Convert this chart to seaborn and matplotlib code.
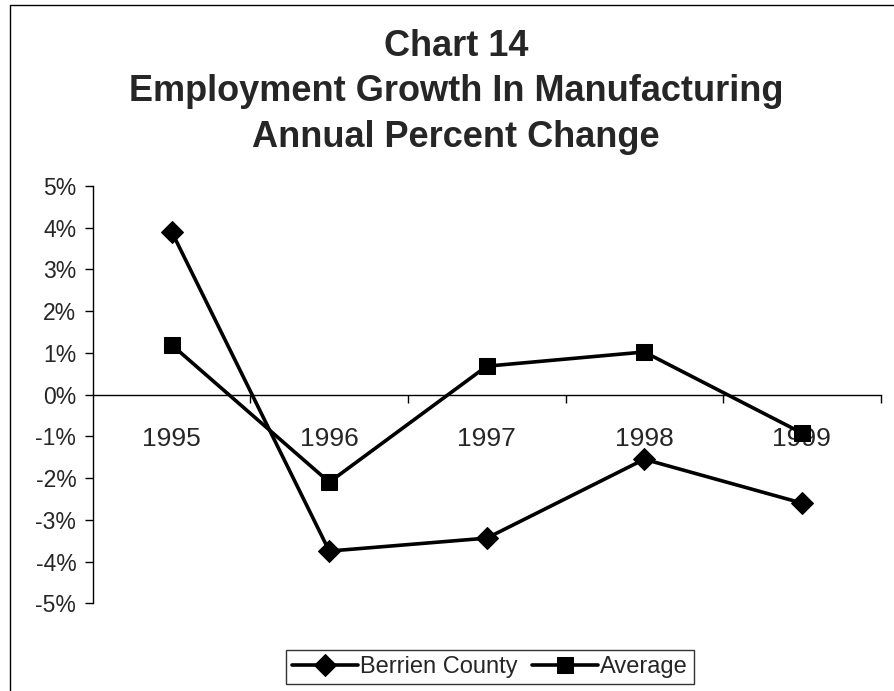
import seaborn as sns
import matplotlib.pyplot as plt
import pandas as pd
from matplotlib.patches import Rectangle

# values (percent)
years = ["1995", "1996", "1997", "1998", "1999"]
berrien = [3.9, -3.75, -3.44, -1.55, -2.6]
average = [1.19, -2.1, 0.68, 1.02, -0.92]

df = pd.DataFrame({
    "Year": years * 2,
    "Change": berrien + average,
    "Series": ["Berrien County"] * len(years) + ["Average"] * len(years),
})

sns.set_theme(style="white")
plt.rcParams["font.family"] = ["Liberation Sans", "DejaVu Sans"]

fig = plt.figure(figsize=(8.94, 6.91), dpi=100)
ax = fig.add_axes([0.104, 0.127, 0.881, 0.604])

sns.lineplot(
    data=df, x="Year", y="Change", hue="Series", style="Series",
    palette={"Berrien County": "black", "Average": "black"},
    markers={"Berrien County": "D", "Average": "s"},
    dashes=False, linewidth=2.6, markersize=11, markeredgecolor="black",
    sort=False, ax=ax,
)

ax.set_xlim(-0.5, len(years) - 0.5)
ax.set_ylim(-5, 5)
ax.set_yticks(range(-5, 6))
ax.set_yticklabels([f"{v}%" for v in range(-5, 6)], fontsize=16.5)
ax.set_xlabel("")
ax.set_ylabel("")

# x axis sits on the zero line, ticks between categories
ax.spines["bottom"].set_position(("data", 0))
ax.spines["top"].set_visible(False)
ax.spines["right"].set_visible(False)
for s in ["left", "bottom"]:
    ax.spines[s].set_color("black")
    ax.spines[s].set_linewidth(1.0)
ax.set_xticks(range(len(years)))
ax.set_xticklabels(years, fontsize=19)
ax.set_xticks([i + 0.5 for i in range(len(years))], minor=True)
ax.tick_params(axis="x", which="major", length=0, pad=23)
ax.tick_params(axis="x", which="minor", length=6, width=1, color="black", direction="out", bottom=True)
ax.tick_params(axis="y", length=6, width=1, color="black", direction="out", left=True, pad=6)

leg = ax.legend(
    loc="lower center", bbox_to_anchor=(0.548, 0.0), bbox_transform=fig.transFigure,
    ncol=2, frameon=True, fancybox=False, edgecolor="black", fontsize=17,
    handlelength=2.8, columnspacing=0.6, handletextpad=0.1, borderpad=0.25,
    borderaxespad=0.3,
)
leg.get_frame().set_linewidth(1.0)

fig.text(0.51, 0.958, "Chart 14\nEmployment Growth In Manufacturing\nAnnual Percent Change",
         ha="center", va="top", fontsize=26, fontweight="bold", linespacing=1.38)

# thin frame around the chart area
fig.patches.append(Rectangle((0.011, -0.01), 1.2, 1.003, transform=fig.transFigure,
                             fill=False, edgecolor="black", linewidth=1.0))

fig.savefig("out.png", dpi=100, facecolor="white")
